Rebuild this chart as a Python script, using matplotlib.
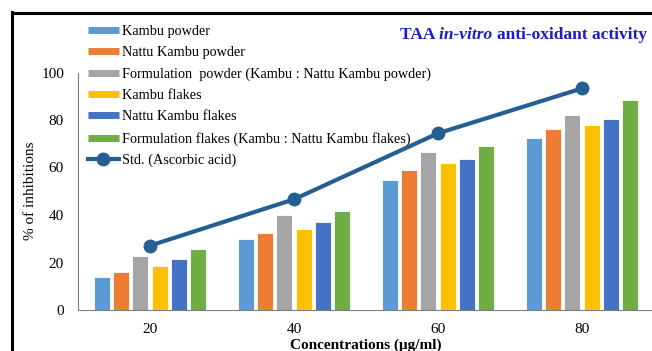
import matplotlib
matplotlib.use("Agg")
import matplotlib.pyplot as plt
from matplotlib.lines import Line2D
from matplotlib.transforms import IdentityTransform
import numpy as np

plt.rcParams['font.family'] = ['Liberation Serif', 'DejaVu Serif']

concentrations = ["20", "40", "60", "80"]
series_names = [
    "Kambu powder",
    "Nattu Kambu powder",
    "Formulation  powder (Kambu : Nattu Kambu powder)",
    "Kambu flakes",
    "Nattu Kambu flakes",
    "Formulation flakes (Kambu : Nattu Kambu flakes)",
]
kambu_powder = [13.8, 29.8, 54.7, 72.6]
nattu_kambu_powder = [16.0, 32.4, 58.9, 76.1]
formulation_powder = [22.7, 40.0, 66.7, 82.1]
kambu_flakes = [18.5, 34.2, 61.8, 77.9]
nattu_kambu_flakes = [21.5, 37.2, 63.4, 80.3]
formulation_flakes = [25.7, 41.7, 69.2, 88.5]
std_ascorbic = [27.1, 46.6, 74.4, 93.3]
std_name = "Std. (Ascorbic acid)"
y_ticks = [0, 20, 40, 60, 80, 100]

bar_series = [kambu_powder, nattu_kambu_powder, formulation_powder,
              kambu_flakes, nattu_kambu_flakes, formulation_flakes]
colors = ["#5B9BD5", "#ED7D31", "#A5A5A5", "#FFC000", "#4472C4", "#70AD47"]
line_color = "#255E91"
title_color = "#1C1CC4"

fig = plt.figure(figsize=(6.52, 3.51), dpi=100)
ax = fig.add_axes([78 / 652, 41 / 351, 576 / 652, 237.5 / 351])

x = np.arange(len(concentrations))
stride = 0.1333
for j, (vals, col) in enumerate(zip(bar_series, colors)):
    ax.bar(x + (j - 2.5) * stride, vals, width=0.112, color=col,
           edgecolor="white", linewidth=0.6, zorder=2)

ax.plot(x, std_ascorbic, color=line_color, lw=3, marker="o", ms=9,
        zorder=3, solid_capstyle="round")

ax.set_xlim(-0.5, 3.5)
ax.set_ylim(0, 100)
ax.set_yticks(y_ticks)
ax.set_xticks(x)
ax.set_xticklabels(concentrations)
ax.tick_params(axis="both", length=0, labelsize=11)
ax.tick_params(axis="x", pad=9.5)
ax.tick_params(axis="y", pad=10)
for s in ["top", "right"]:
    ax.spines[s].set_visible(False)
for s in ["left", "bottom"]:
    ax.spines[s].set_color("#7f7f7f")
    ax.spines[s].set_linewidth(0.8)

ax.set_ylabel("% of inhibitions", fontsize=11, labelpad=3)
ax.set_xlabel("Concentrations (\u03bcg/ml)", fontsize=11, fontweight="bold",
              labelpad=1.5)

handles = [Line2D([0], [0], color=c, lw=5, solid_capstyle="butt") for c in colors]
handles.append(Line2D([0], [0], color=line_color, lw=3, marker="o", ms=9))
leg = fig.legend(handles, series_names + [std_name], loc="upper left",
                 bbox_to_anchor=(82 / 652, 1 - 19 / 351), frameon=False,
                 fontsize=10.3, handlelength=2.2, handletextpad=0.2,
                 labelspacing=0.58, borderaxespad=0)

# Title with an italic middle part, right-aligned
title_y = fig.bbox.height * (1 - 39 / 351)
t3 = fig.text(647, title_y, "anti-oxidant activity", ha="right",
              va="baseline", fontsize=12.5, fontweight="bold", color=title_color,
              transform=IdentityTransform())
fig.canvas.draw()
bb3 = t3.get_window_extent()
t2 = fig.text(bb3.x0, title_y, "in-vitro ", ha="right", va="baseline",
              fontsize=12.5, fontweight="bold", fontstyle="italic",
              color=title_color, transform=IdentityTransform())
fig.canvas.draw()
bb2 = t2.get_window_extent()
fig.text(bb2.x0, title_y, "TAA ", ha="right", va="baseline", fontsize=12.5,
         fontweight="bold", color=title_color, transform=IdentityTransform())

# Outer frame lines
fig.add_artist(Line2D([12 / 652, 12 / 652], [0, 1 - 12 / 351],
                      transform=fig.transFigure, color="black", lw=2.2))
fig.add_artist(Line2D([12 / 652, 1], [1 - 13 / 351, 1 - 13 / 351],
                      transform=fig.transFigure, color="black", lw=2.2))

fig.savefig("out.png", dpi=100)
